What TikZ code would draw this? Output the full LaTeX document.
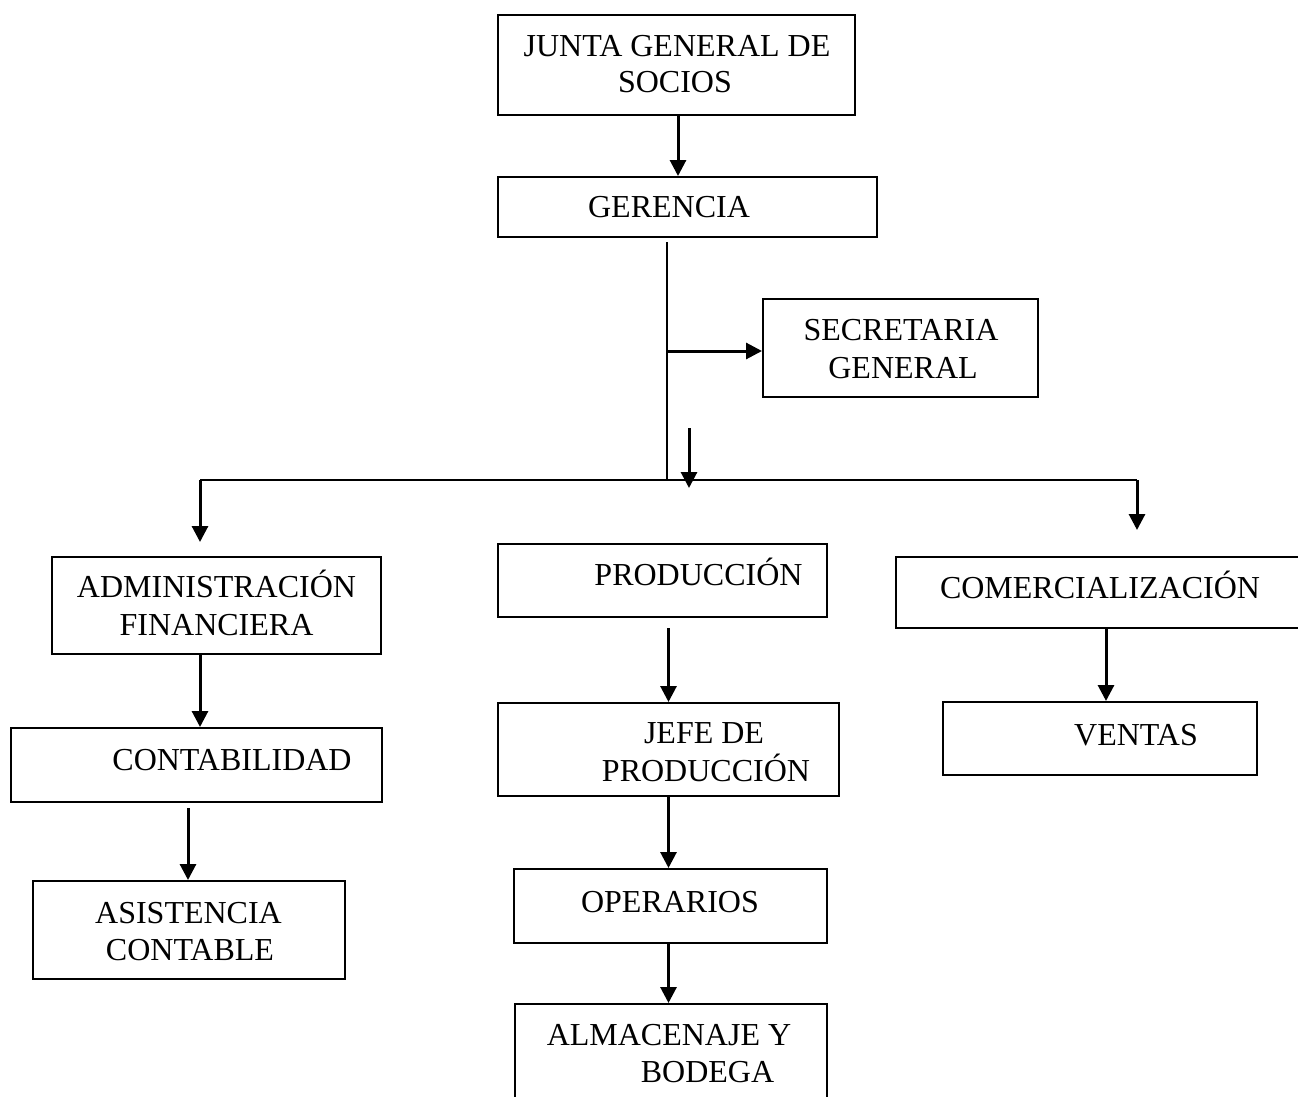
\documentclass[tikz,border=0pt]{standalone}
\usepackage{fontspec}
\setmainfont{Liberation Serif}
\usetikzlibrary{arrows.meta,calc}
\begin{document}
\begin{tikzpicture}[x=1pt,y=-1pt,
  box/.style={draw, line width=2pt, rectangle, inner sep=0pt},
  txt/.style={anchor=base, inner sep=0pt, font=\fontsize{32}{36}\selectfont},
  conn/.style={line width=2.2pt},
  arr/.style={line width=3pt, -{Triangle[length=16pt,width=16pt]}}]
\useasboundingbox (0,0) rectangle (1298,1097);
\clip (0,0) rectangle (1298,1097);
% boxes
\node[box, minimum width=357pt, minimum height=100pt] (junta) at (676.5,65) {};
\node[box, minimum width=379pt, minimum height=60pt] (ger) at (687.5,207) {};
\node[box, minimum width=275pt, minimum height=98pt] (sec) at (900.5,348) {};
\node[box, minimum width=329pt, minimum height=97pt] (adm) at (216.5,605.5) {};
\node[box, minimum width=329pt, minimum height=73pt] (prod) at (662.5,580.5) {};
\node[box, minimum width=424pt, minimum height=71pt] (com) at (1108,592.5) {};
\node[box, minimum width=341pt, minimum height=93pt] (jefe) at (668.5,749.5) {};
\node[box, minimum width=313pt, minimum height=74pt] (oper) at (670.5,906) {};
\node[box, minimum width=312pt, minimum height=106pt] (alm) at (671,1057) {};
\node[box, minimum width=314pt, minimum height=73pt] (ven) at (1100,738.5) {};
\node[box, minimum width=371pt, minimum height=74pt] (cont) at (196.5,765) {};
\node[box, minimum width=312pt, minimum height=98pt] (asis) at (189,930) {};
% texts
\node[txt] (tjunta1) at (677,57) {JUNTA GENERAL DE};
\node[txt] (tjunta2) at (675,93) {SOCIOS};
\node[txt] (tger) at (669,217) {GERENCIA};
\node[txt] (tsec1) at (901,340) {SECRETARIA};
\node[txt] (tsec2) at (903,378) {GENERAL};
\node[txt] (tadm1) at (216.5,597) {ADMINISTRACIÓN};
\node[txt] (tadm2) at (216.5,635) {FINANCIERA};
\node[txt] (tprod) at (698.5,585) {PRODUCCIÓN};
\node[txt] (tjefe1) at (704,743) {JEFE DE};
\node[txt] (tjefe2) at (706,781) {PRODUCCIÓN};
\node[txt] (toper) at (670,912) {OPERARIOS};
\node[txt] (talm1) at (669,1045) {ALMACENAJE Y};
\node[txt] (talm2) at (707.5,1082) {BODEGA};
\node[txt] (tcom) at (1100,598) {COMERCIALIZACIÓN};
\node[txt] (tven) at (1136,745) {VENTAS};
\node[txt] (tcont) at (232,770) {CONTABILIDAD};
\node[txt] (tasis1) at (188.5,923) {ASISTENCIA};
\node[txt] (tasis2) at (190,960) {CONTABLE};
% coordinates
\coordinate (t0) at (667,242);
\coordinate (bl) at (200,480);
\coordinate (br) at (1137,480);
\coordinate (sb) at (667,351);
\coordinate (fa1) at (689,428);
\coordinate (fa2) at (689,488);
\coordinate (blend) at (200,542);
\coordinate (brend) at (1137,530);
% connectors
\draw[arr] ($(junta.south)+(1.5,0)$) -- ($(ger.north -| junta.south)+(1.5,0)$);
\draw[conn] (t0) -- (t0 |- bl);
\draw[conn] (bl) -- (br);
\draw[arr] (sb) -- (sb -| sec.west);
\draw[arr] (fa1) -- (fa2);
\draw[arr] (bl) -- (blend);
\draw[arr] (br) -- (brend);
\draw[arr] (adm.south -| bl) -- (cont.north -| bl);
\draw[arr] ($(cont.south -| asis.north)+(-1,5)$) -- ($(asis.north)+(-1,0)$);
\draw[arr] ($(jefe.north |- prod.south)+(0,10)$) -- (jefe.north);
\draw[arr] (jefe.south) -- (jefe.south |- oper.north);
\draw[arr] (oper.south -| jefe.south) -- (alm.north -| jefe.south);
\draw[arr] ($(com.south)+(-2,0)$) -- ($(com.south |- ven.north)+(-2,0)$);
\end{tikzpicture}
\end{document}
